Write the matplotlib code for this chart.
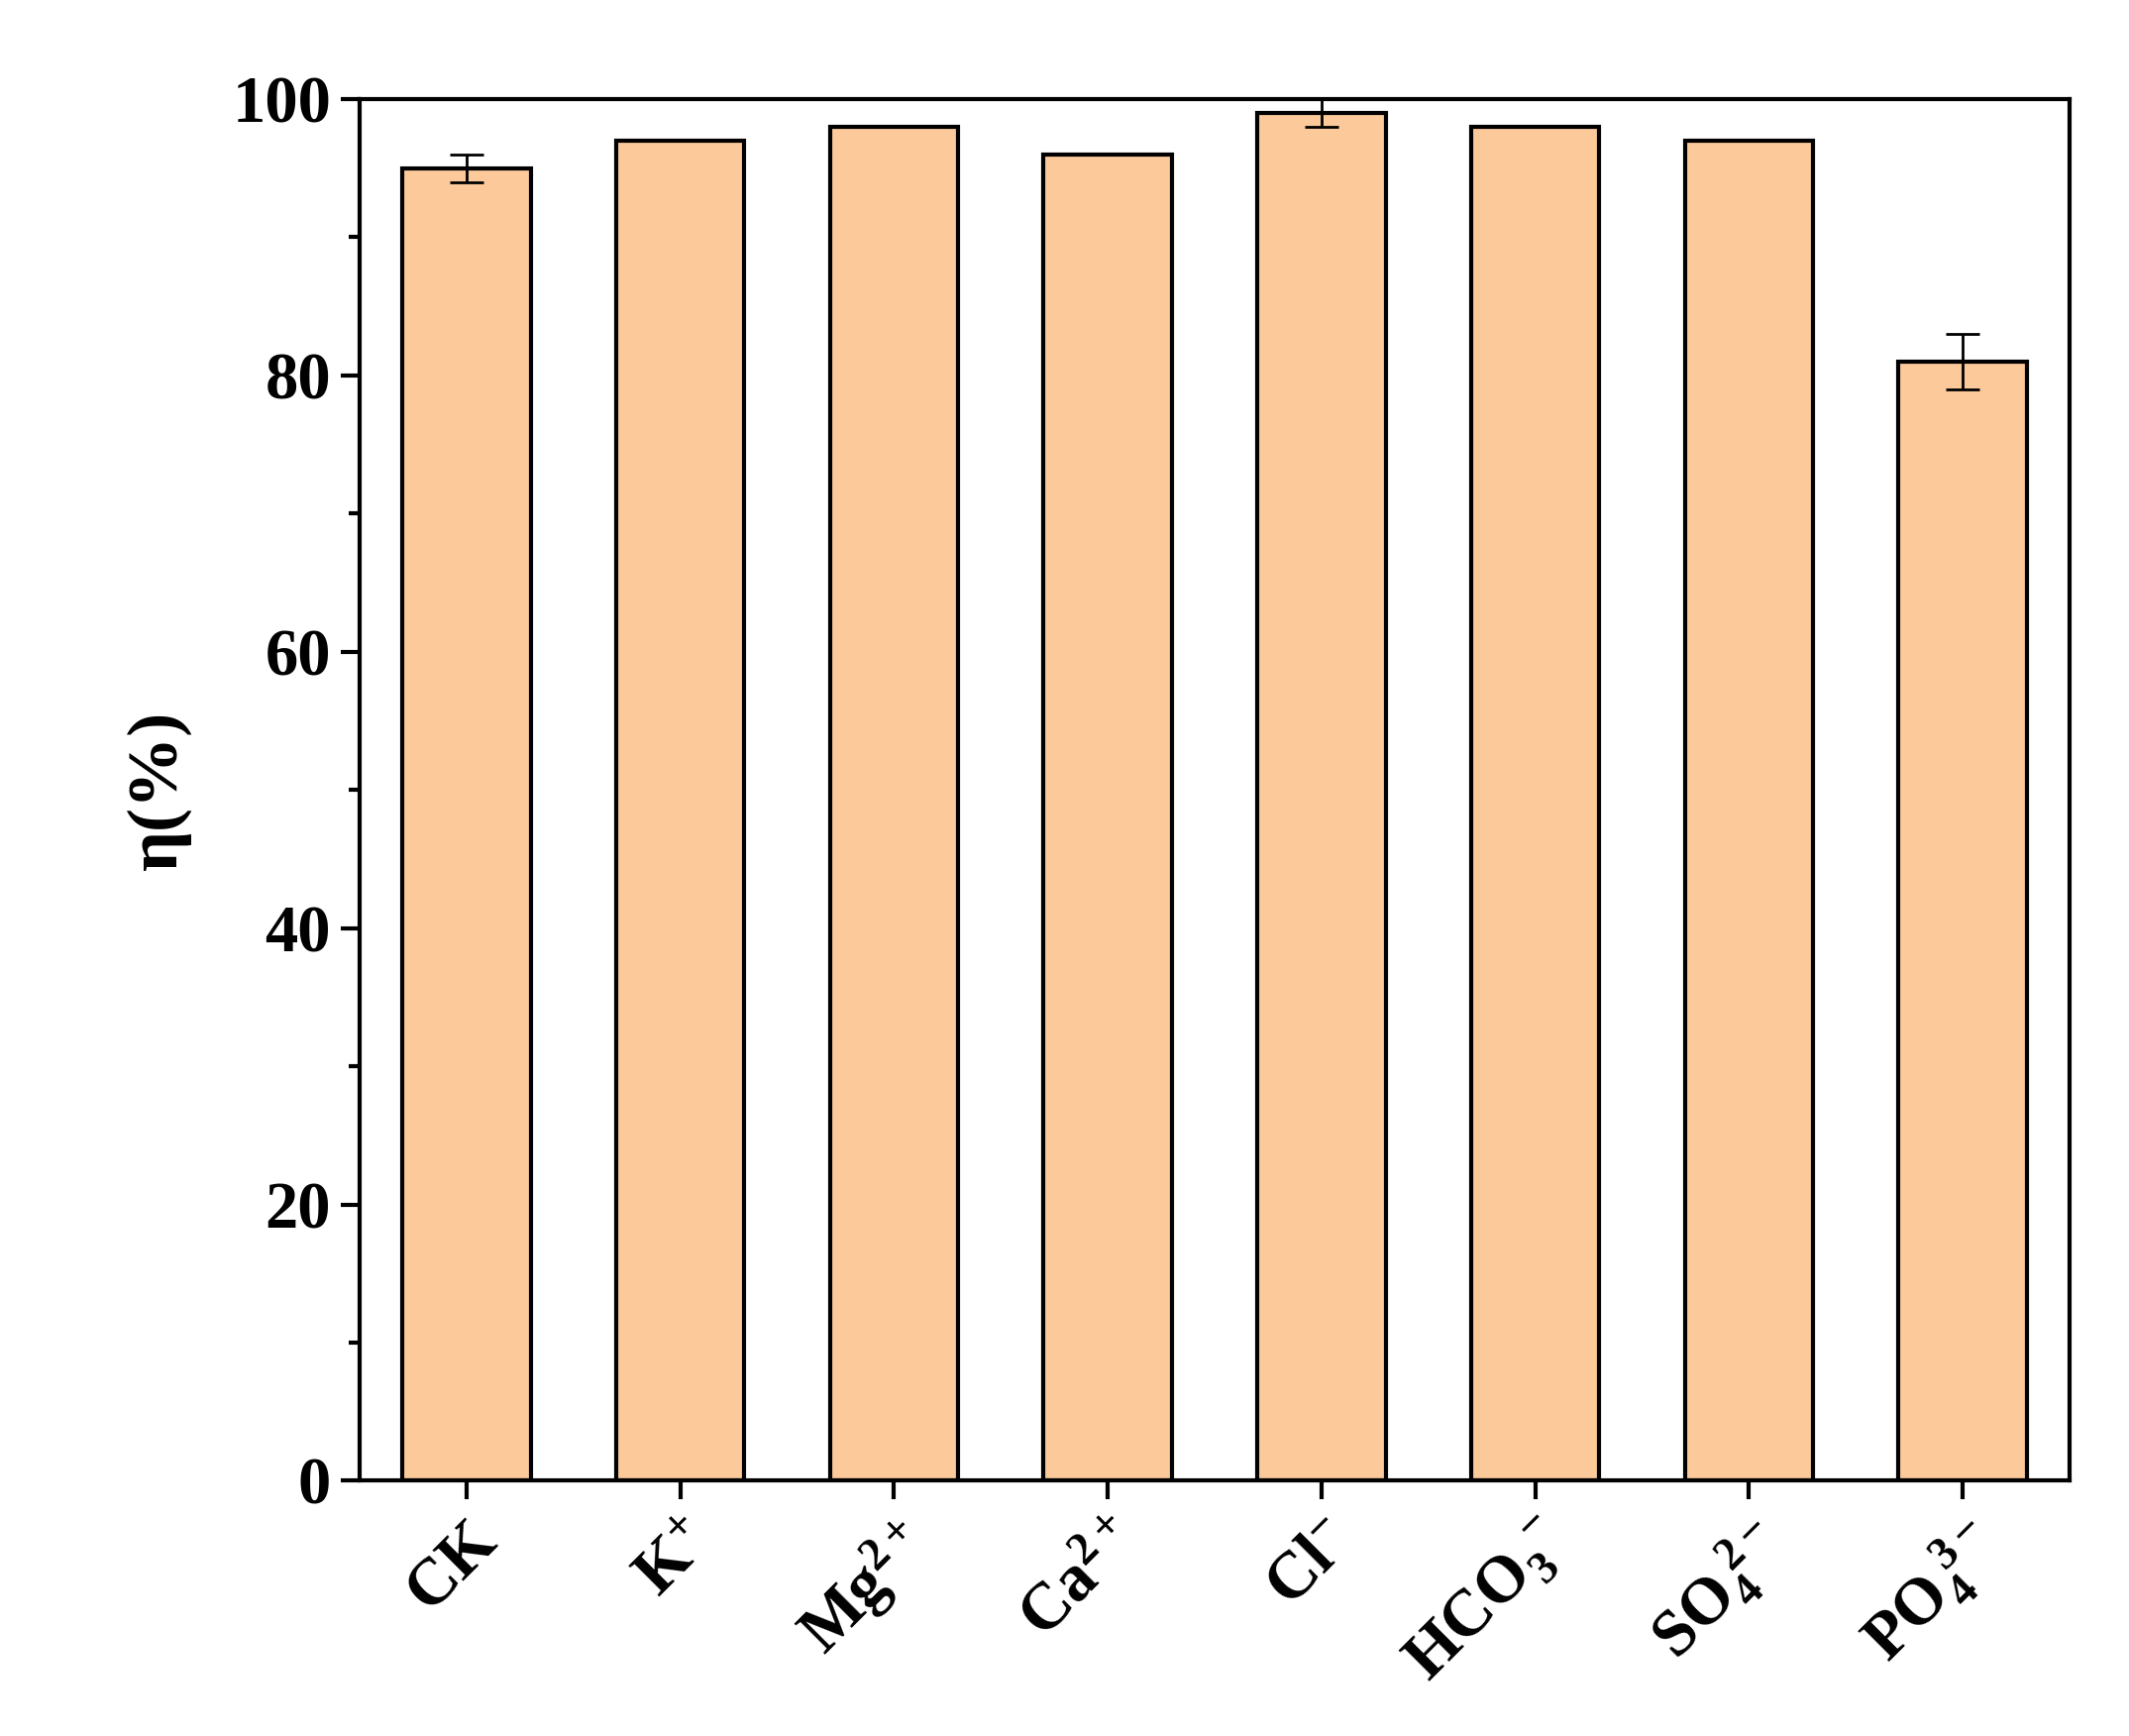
import numpy as np
import matplotlib.pyplot as plt
from matplotlib.ticker import MultipleLocator

plt.rcParams['font.family'] = ['Liberation Serif', 'DejaVu Serif']
plt.rcParams['font.weight'] = 'bold'
plt.rcParams['mathtext.fontset'] = 'custom'
plt.rcParams['mathtext.rm'] = 'Liberation Serif:bold'
plt.rcParams['mathtext.bf'] = 'Liberation Serif:bold'
plt.rcParams['mathtext.it'] = 'Liberation Serif:bold'

# data
labels = ['CK', r'$\mathbf{K^{+}}$', r'$\mathbf{Mg^{2+}}$', r'$\mathbf{Ca^{2+}}$',
          r'$\mathbf{Cl^{-}}$', r'$\mathbf{HCO_3^{\ -}}$', r'$\mathbf{SO_4^{\ 2-}}$',
          r'$\mathbf{PO_4^{\ 3-}}$']
values = [95, 97, 98, 96, 99, 98, 97, 81]
errors = [1, 0, 0, 0, 1, 0, 0, 2]

fig = plt.figure(figsize=(10.745, 8.76), dpi=200)
ax = fig.add_axes([0.169, 0.147, 0.803, 0.796])

x = np.arange(len(values))
ax.bar(x, values, width=0.6, color='#FBC99A', edgecolor='black', linewidth=1.5,
       yerr=errors, error_kw=dict(ecolor='black', elinewidth=1, capsize=6, capthick=1))

ax.set_xlim(-0.5, len(values) - 0.5)
ax.set_ylim(0, 100)
ax.set_xticks(x)
ax.set_xticklabels(labels, rotation=45, ha='right', rotation_mode='anchor',
                   fontsize=24, fontweight='bold')
ax.yaxis.set_major_locator(MultipleLocator(20))
ax.yaxis.set_minor_locator(MultipleLocator(10))
for lbl in ax.get_yticklabels():
    lbl.set_fontsize(24)
    lbl.set_fontweight('bold')
ax.tick_params(axis='both', which='major', direction='out', length=7, width=1.5)
ax.tick_params(axis='y', which='minor', direction='out', length=4, width=1.5)
for s in ax.spines.values():
    s.set_linewidth(1.5)
ax.set_ylabel('η(%)', fontsize=26, fontweight='bold', labelpad=15)

fig.savefig('out.png', dpi=200)
